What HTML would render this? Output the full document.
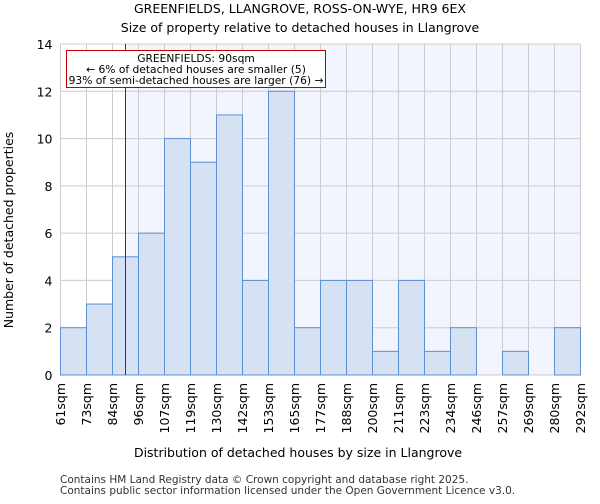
<!DOCTYPE html>
<html><head><meta charset="utf-8"><style>
body{margin:0;background:#fff;font-family:"DejaVu Sans","Liberation Sans",sans-serif}
</style></head><body>
<svg id="chart" width="600" height="500" xmlns="http://www.w3.org/2000/svg" font-family="DejaVu Sans, Liberation Sans, sans-serif">
<text x="300" y="13" text-anchor="middle" font-size="12.5">GREENFIELDS, LLANGROVE, ROSS-ON-WYE, HR9 6EX</text>
<text x="300" y="32" text-anchor="middle" font-size="12.5">Size of property relative to detached houses in Llangrove</text>
<g id="plot"></g>
<text x="298" y="457" text-anchor="middle" font-size="12.5">Distribution of detached houses by size in Llangrove</text>
<text transform="translate(13,230) rotate(-90)" text-anchor="middle" font-size="12.5">Number of detached properties</text>
<text x="60" y="483" font-size="10.5" fill="#333">Contains HM Land Registry data © Crown copyright and database right 2025.</text>
<text x="60" y="494" font-size="10.5" fill="#333">Contains public sector information licensed under the Open Government Licence v3.0.</text>
</svg>
<script>
const binLabels=["61sqm","73sqm","84sqm","96sqm","107sqm","119sqm","130sqm","142sqm","153sqm","165sqm","177sqm","188sqm","200sqm","211sqm","223sqm","234sqm","246sqm","257sqm","269sqm","280sqm","292sqm"];
const counts=[2,3,5,6,10,9,11,4,12,2,4,4,1,4,1,2,0,1,0,2];
const yTicks=[0,2,4,6,8,10,12,14];
const markerBin=2.5;
const NS="http://www.w3.org/2000/svg";
const L=60.5,R=580.5,T=44,B=375,yMax=14;
const g=document.getElementById('plot');
const n=counts.length;
const xs=i=>L+(R-L)*i/n;
const ys=v=>B-(B-T)*v/yMax;
function mk(t,a){const e=document.createElementNS(NS,t);for(const k in a)e.setAttribute(k,a[k]);g.appendChild(e);return e;}
const mx=xs(markerBin);
let e=mk('rect',{x:mx,y:T,width:R-mx,height:B-T,fill:'#f2f5fd'});


for(let i=0;i<=n;i++){e=mk('line',{x1:xs(i),x2:xs(i),y1:T,y2:B,stroke:'#ccc'});

}
yTicks.forEach(v=>{e=mk('line',{x1:L,x2:R,y1:ys(v),y2:ys(v),stroke:'#ccc'});


e=mk('text',{x:L-8,y:ys(v)+5,'text-anchor':'end','font-size':'12.5'});e.textContent=v;

});
counts.forEach((c,i)=>{if(c<=0)return;e=mk('rect',{x:xs(i),y:ys(c),width:xs(1)-xs(0),height:B-ys(c),fill:'#d6e1f3',stroke:'#5b8fd6','stroke-width':1});

});
binLabels.forEach((l,i)=>{const x=xs(i);e=mk('text',{transform:`translate(${x+4.5},383) rotate(-90)`,'text-anchor':'end','font-size':'12.5'});e.textContent=l;

});
e=mk('line',{x1:mx,x2:mx,y1:T,y2:B,stroke:'#c00000','stroke-width':1});


e=mk('rect',{x:66.5,y:50.5,width:259,height:37,fill:'#fff',stroke:'#c00000'});


["GREENFIELDS: 90sqm","← 6% of detached houses are smaller (5)","93% of semi-detached houses are larger (76) →"].forEach((t,i)=>{e=mk('text',{x:196,y:62+i*11,'text-anchor':'middle','font-size':'10.7'});e.textContent=t;

});
</script>
</body></html>
